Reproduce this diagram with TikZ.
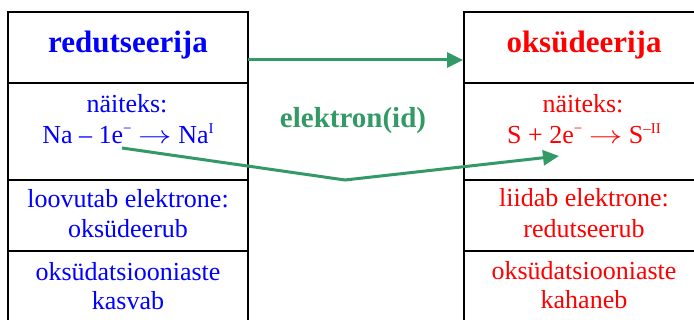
\documentclass[tikz,border=0pt]{standalone}
\usepackage{fontspec}
\usepackage{graphicx}
\setmainfont{Liberation Serif}
\usetikzlibrary{arrows.meta}
\definecolor{redcol}{RGB}{255,0,0}
\definecolor{bluecol}{RGB}{0,0,255}
\definecolor{elgreen}{RGB}{51,153,102}
\newcommand{\sups}[1]{\raisebox{0.42em}{\fontsize{15}{15}\selectfont #1}}
\newcommand{\yields}{ \scalebox{1.35}[1]{$\rightarrow$} }
\begin{document}
\begin{tikzpicture}[x=1pt,y=-1pt,
  cell/.style={draw=black,line width=2pt,minimum width=240pt,inner sep=0pt},
  head/.style={anchor=base,font=\fontsize{31}{31}\selectfont\bfseries},
  txt/.style={anchor=base,font=\fontsize{26}{29}\selectfont},
  flow/.style={draw=elgreen,line width=3pt,-{Triangle[length=16pt,width=15pt]}}]
\useasboundingbox (0,0) rectangle (694,320);
\clip (0,0) rectangle (694,320);
% left column: reducing agent
\node[cell,minimum height=71pt] (l1) at (128,47.5) {};
\node[cell,minimum height=97pt] (l2) at (128,131.5) {};
\node[cell,minimum height=71pt] (l3) at (128,215.5) {};
\node[cell,minimum height=80pt] (l4) at (128,291) {};
% right column: oxidising agent
\node[cell,minimum height=71pt] (r1) at (584,47.5) {};
\node[cell,minimum height=97pt] (r2) at (584,131.5) {};
\node[cell,minimum height=71pt] (r3) at (584,215.5) {};
\node[cell,minimum height=80pt] (r4) at (584,291) {};
% left texts
\node[head,text=bluecol] (lt1) at (128,53) {redutseerija};
\node[txt,text=bluecol] (lt2) at (127,113) {näiteks:};
\node[txt,text=bluecol] (lt3) at (128,144) {Na – 1e\sups{−}\yields Na\sups{I}};
\node[txt,text=bluecol] (lt4) at (128,208) {loovutab elektrone:};
\node[txt,text=bluecol] (lt5) at (128,238) {oksüdeerub};
\node[txt,text=bluecol] (lt6) at (128,281) {oksüdatsiooniaste};
\node[txt,text=bluecol] (lt7) at (128,310) {kasvab};
% right texts
\node[head,text=redcol] (rt1) at (584,53) {oksüdeerija};
\node[txt,text=redcol] (rt2) at (583,113) {näiteks:};
\node[txt,text=redcol] (rt3) at (584,144) {S + 2e\sups{−}\yields S\sups{–II}};
\node[txt,text=redcol] (rt4) at (584,207) {liidab elektrone:};
\node[txt,text=redcol] (rt5) at (584,238) {redutseerub};
\node[txt,text=redcol] (rt6) at (584,280) {oksüdatsiooniaste};
\node[txt,text=redcol] (rt7) at (584,309) {kahaneb};
% electron transfer
\node[anchor=base,text=elgreen,font=\fontsize{29}{29}\selectfont\bfseries] (el) at (353,128) {elektron(id)};
\coordinate (a1) at (248,60);
\draw[flow] (a1) -- (r1.west |- a1);
\coordinate (e1) at (122,148);
\coordinate (bend) at (345,180);
\coordinate (e2) at (559,156);
\draw[flow] (e1) -- (bend) -- (e2);
\end{tikzpicture}
\end{document}
